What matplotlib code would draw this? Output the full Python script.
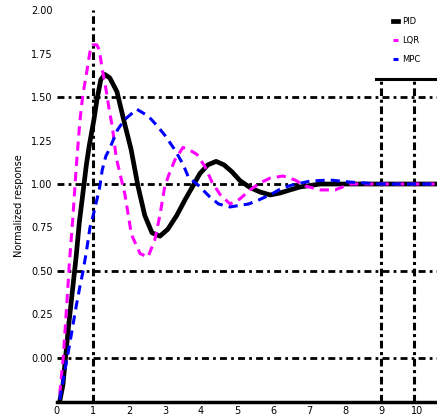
import matplotlib.pyplot as plt
import numpy as np

# Step responses (time in s, normalized output)
t_base = [0.08, 0.17, 0.25, 0.33, 0.42, 0.54, 0.625, 0.72, 0.82, 0.9, 1.03, 1.11, 1.22, 1.33,
          1.47, 1.67, 1.89, 2.06, 2.25, 2.44, 2.64, 2.86, 3.08, 3.33, 3.56, 3.78, 3.97, 4.19,
          4.42, 4.64, 4.86, 5.08, 5.36, 5.64, 5.92, 6.19, 6.47, 6.75, 7.31, 8.0, 9.0, 10.6]
y_base = [-0.25, -0.155, 0.02, 0.19, 0.36, 0.59, 0.78, 0.94, 1.11, 1.22, 1.37, 1.48, 1.60, 1.63,
          1.61, 1.53, 1.34, 1.20, 0.99, 0.82, 0.72, 0.70, 0.74, 0.82, 0.91, 0.99, 1.06, 1.11,
          1.13, 1.11, 1.07, 1.02, 0.98, 0.954, 0.937, 0.948, 0.966, 0.983, 1.0, 1.0, 1.0, 1.0]

t_fast = [0.08, 0.18, 0.29, 0.35, 0.44, 0.54, 0.64, 0.72, 0.82, 0.92, 1.0, 1.11, 1.18, 1.26,
          1.36, 1.46, 1.54, 1.65, 1.89, 2.07, 2.31, 2.53, 2.72, 2.86, 3.0, 3.14, 3.28, 3.5,
          3.69, 3.89, 4.11, 4.31, 4.53, 4.81, 5.08, 5.36, 5.64, 5.92, 6.28, 6.61, 6.89, 7.31,
          7.72, 8.14, 9.0, 10.6]
y_fast = [-0.21, 0.006, 0.35, 0.55, 0.79, 1.10, 1.36, 1.51, 1.63, 1.76, 1.80, 1.80, 1.77, 1.66,
          1.55, 1.42, 1.33, 1.15, 0.94, 0.71, 0.60, 0.58, 0.68, 0.82, 0.99, 1.07, 1.14, 1.21,
          1.195, 1.17, 1.10, 1.01, 0.94, 0.885, 0.914, 0.966, 1.006, 1.034, 1.046, 1.023, 0.989, 0.966,
          0.966, 1.0, 1.0, 1.0]

t_slow = [0.08, 0.26, 0.35, 0.44, 0.54, 0.64, 0.72, 0.82, 0.92, 1.01, 1.18, 1.26, 1.36, 1.46,
          1.68, 1.88, 2.22, 2.54, 2.76, 3.0, 3.28, 3.51, 3.65, 3.92, 4.25, 4.49, 4.81, 5.13,
          5.32, 5.6, 5.78, 6.01, 6.25, 6.53, 7.03, 7.58, 8.14, 8.97, 10.6]
y_slow = [-0.24, -0.03, 0.07, 0.18, 0.30, 0.41, 0.49, 0.61, 0.75, 0.82, 0.97, 1.08, 1.16, 1.20,
          1.31, 1.37, 1.43, 1.39, 1.34, 1.28, 1.195, 1.11, 1.04, 0.994, 0.925, 0.885, 0.868, 0.879,
          0.885, 0.908, 0.925, 0.948, 0.977, 0.994, 1.017, 1.023, 1.011, 1.0, 1.0]

series_names = ['PID', 'LQR', 'MPC']
ref_levels = [0, 0.5, 1.0, 1.5]
t_marks = [1.0, 9.0, 9.9]

fig = plt.figure(figsize=(4.37, 4.2), dpi=100)
ax = fig.add_axes([0.130, 0.043, 0.870, 0.933])

for lvl in ref_levels:
    ax.axhline(lvl, color='black', lw=2, linestyle=(0, (2.5, 1.5, 1, 1.5)), zorder=1)
ax.axvline(t_marks[0], color='black', lw=2.2, linestyle=(0, (2.5, 1.2, 1, 1.2)), zorder=1)
for tm in t_marks[1:]:
    ax.axvline(tm, ymax=0.824, color='black', lw=2.2, linestyle=(0, (2.5, 1.2, 1, 1.2)), zorder=1)

ax.plot(t_base, y_base, color='black', lw=3.4, label=series_names[0], zorder=3)
ax.plot(t_fast, y_fast, color='#ff00ff', lw=2.2, linestyle=(0, (3, 2)), label=series_names[1], zorder=4)
ax.plot(t_slow, y_slow, color='#0000ff', lw=2.2, linestyle=(0, (3, 2)), label=series_names[2], zorder=4)

# line under the legend
ax.plot([0.839, 1.0], [0.824, 0.824], transform=ax.transAxes, color='black', lw=2.2, clip_on=False)

ax.set_xlim(0, 10.55)
ax.set_ylim(-0.253, 2.0)
ax.set_xticks(np.arange(0, 11, 1))
ax.set_yticks(np.arange(0, 2.01, 0.25))
ax.tick_params(length=0, labelsize=7, pad=3)
for side in ['left', 'top', 'right']:
    ax.spines[side].set_visible(False)
ax.spines['bottom'].set_linewidth(2.5)
ax.set_ylabel('Normalized response', fontsize=7, labelpad=5)

ax.legend(loc='upper left', bbox_to_anchor=(0.875, 0.99), frameon=False, fontsize=6,
          handlelength=0.6, handletextpad=0.5, labelspacing=1.2, borderaxespad=0)

fig.savefig('out.png', dpi=100)
